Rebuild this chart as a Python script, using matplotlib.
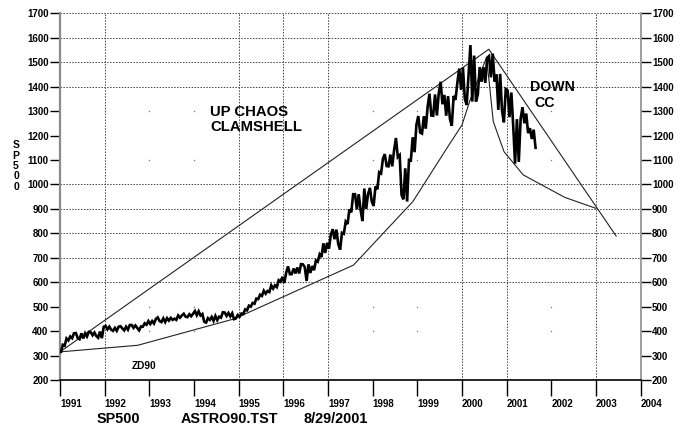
import matplotlib.pyplot as plt

plt.rcParams['font.family'] = ['Liberation Sans', 'DejaVu Sans']
plt.rcParams['font.weight'] = 'bold'

# monthly high / low of the SP500, Jan 1991 .. Aug 2001
sp_high = [
    344, 370, 378, 391, 392, 391, 391, 397, 396, 394, 398, 418,        # 1991
    421, 418, 413, 418, 420, 418, 425, 425, 423, 419, 432, 441,        # 1992
    441, 450, 456, 452, 453, 454, 451, 464, 464, 471, 469, 471,        # 1993
    482, 481, 470, 453, 458, 462, 459, 477, 476, 474, 473, 466,        # 1994
    472, 489, 504, 515, 533, 549, 565, 564, 587, 587, 608, 622,        # 1995
    638, 665, 656, 660, 674, 673, 673, 666, 689, 714, 759, 761,        # 1996
    794, 817, 815, 802, 848, 898, 960, 960, 960, 983, 960, 986,        # 1997
    992, 1050, 1105, 1124, 1122, 1140, 1190, 1120, 1066, 1100, 1193, 1244,   # 1998
    1280, 1279, 1316, 1371, 1368, 1373, 1420, 1366, 1361, 1362, 1417, 1474,  # 1999
    1478, 1445, 1570, 1527, 1480, 1480, 1518, 1525, 1535, 1450, 1452, 1390,  # 2000
    1384, 1376, 1267, 1269, 1316, 1290, 1230, 1224,                          # 2001
]
sp_low = [
    315, 340, 362, 371, 372, 367, 370, 378, 383, 380, 373, 371,        # 1991
    407, 406, 401, 401, 411, 403, 406, 413, 413, 403, 418, 426,        # 1992
    429, 431, 441, 437, 437, 443, 446, 446, 455, 459, 457, 461,        # 1993
    465, 464, 438, 435, 446, 442, 445, 455, 462, 460, 449, 452,        # 1994
    459, 470, 485, 500, 512, 531, 544, 553, 560, 574, 580, 602,        # 1995
    597, 633, 633, 636, 636, 662, 605, 638, 649, 684, 703, 720,        # 1996
    737, 776, 756, 733, 798, 838, 886, 898, 896, 850, 900, 930,        # 1997
    912, 980, 1045, 1075, 1074, 1074, 1112, 957, 939, 930, 1098, 1132,       # 1998
    1212, 1208, 1228, 1282, 1281, 1282, 1328, 1281, 1268, 1240, 1346, 1387,  # 1999
    1350, 1325, 1339, 1339, 1369, 1420, 1415, 1438, 1421, 1305, 1300, 1254,  # 2000
    1275, 1240, 1085, 1092, 1250, 1210, 1186, 1150,                          # 2001
]

# clamshell lines
upper_x = [1991.0, 2000.6, 2003.45]
upper_y = [315, 1553, 789]
lower_x = [1991.0, 1992.74, 1994.9, 1997.57, 1998.9, 1999.73, 2000.0, 2000.18,
           2000.55, 2000.7, 2000.94, 2001.37, 2002.3, 2003.0]
lower_y = [315, 342, 450, 670, 930, 1168, 1243, 1345,
           1520, 1257, 1134, 1039, 947, 902]

years = list(range(1991, 2005))
levels = list(range(200, 1701, 100))
grid_years = [1992, 1995, 1996, 1997, 2000, 2001, 2003]
grid_levels = [600, 700, 800, 900, 1000, 1400, 1500, 1600, 1700]
dot_years = [1993, 1994, 1998, 1999, 2002]
dot_levels = [400, 500, 1100, 1300]

W, H = 686, 428
fig = plt.figure(figsize=(W / 100, H / 100), dpi=100)
ax = fig.add_axes([60 / W, 1 - 380 / H, 580.7 / W, 366.7 / H])

# grid
for yr in grid_years:
    ax.axvline(yr, color='#444444', lw=0.7, ls=(0, (1.5, 1.5)), zorder=0)
for v in grid_levels:
    ax.axhline(v, color='#444444', lw=0.7, ls=(0, (1.5, 1.5)), zorder=0)
dx = [y for y in dot_years for _ in dot_levels]
dy = [v for _ in dot_years for v in dot_levels]
ax.plot(dx, dy, ls='none', marker='s', ms=0.9, mew=0, color='#777777', zorder=0)

# price as a zigzag through each month's high and low
mid = [h + l for h, l in zip(sp_high, sp_low)]
xs, ys = [], []
n = len(sp_high)
for i in range(n):
    if i < n - 1:
        up = mid[i + 1] >= mid[i]
    else:
        up = mid[i] >= mid[i - 1]
    a, b = (sp_low[i], sp_high[i]) if up else (sp_high[i], sp_low[i])
    xs += [1991 + (i + 0.25) / 12, 1991 + (i + 0.75) / 12]
    ys += [a, b]
ax.plot([1991.0] + xs, [315] + ys, color='black', lw=1.9, zorder=3,
        solid_joinstyle='miter')

ax.plot(upper_x, upper_y, color='#222222', lw=0.8, zorder=2)
ax.plot(lower_x, lower_y, color='#222222', lw=0.8, zorder=2)

ax.set_xlim(1991, 2004)
ax.set_ylim(200, 1700)
ax.set_xticks(years)
ax.set_xticklabels([str(y) for y in years], fontsize=7)
for lab in ax.get_xticklabels():
    lab.set_ha('left')
ax.set_yticks(levels)
ax.set_yticklabels([str(v) for v in levels], fontsize=7)
ax.tick_params(axis='x', length=11.5, width=1.0, pad=2, color='black')
ax.tick_params(axis='y', length=7.2, width=1.0, pad=1, color='black',
               left=True, right=True, labelleft=True, labelright=True)

ax.spines['top'].set_visible(False)
ax.spines['left'].set_color('#8c8c8c')
ax.spines['left'].set_linewidth(1.6)
ax.spines['right'].set_color('#8c8c8c')
ax.spines['right'].set_linewidth(1.2)
ax.spines['bottom'].set_color('black')
ax.spines['bottom'].set_linewidth(1.2)

# annotations
ax.text(1994.36, 1265, "UP CHAOS\nCLAMSHELL", fontsize=10.7, ha='left', va='center',
        linespacing=1.15)
ax.text(2001.52, 1400, "DOWN", fontsize=10.2, ha='left', va='center')
ax.text(2001.63, 1333, "CC", fontsize=10.2, ha='left', va='center')
ax.text(1992.6, 259, "ZD90", fontsize=7.3, ha='left', va='center')

fig.text(16 / W, 1 - 166 / H, "S\nP\n5\n0\n0", fontsize=7.5, ha='center', va='center',
         linespacing=1.05)
fig.text(96.7 / W, 1 - 419 / H, "SP500", fontsize=10.4, ha='left', va='center')
fig.text(181 / W, 1 - 419 / H, "ASTRO90.TST", fontsize=10.4, ha='left', va='center')
fig.text(303.3 / W, 1 - 419 / H, "8/29/2001", fontsize=10.4, ha='left', va='center')

fig.savefig('out.png', dpi=100)
